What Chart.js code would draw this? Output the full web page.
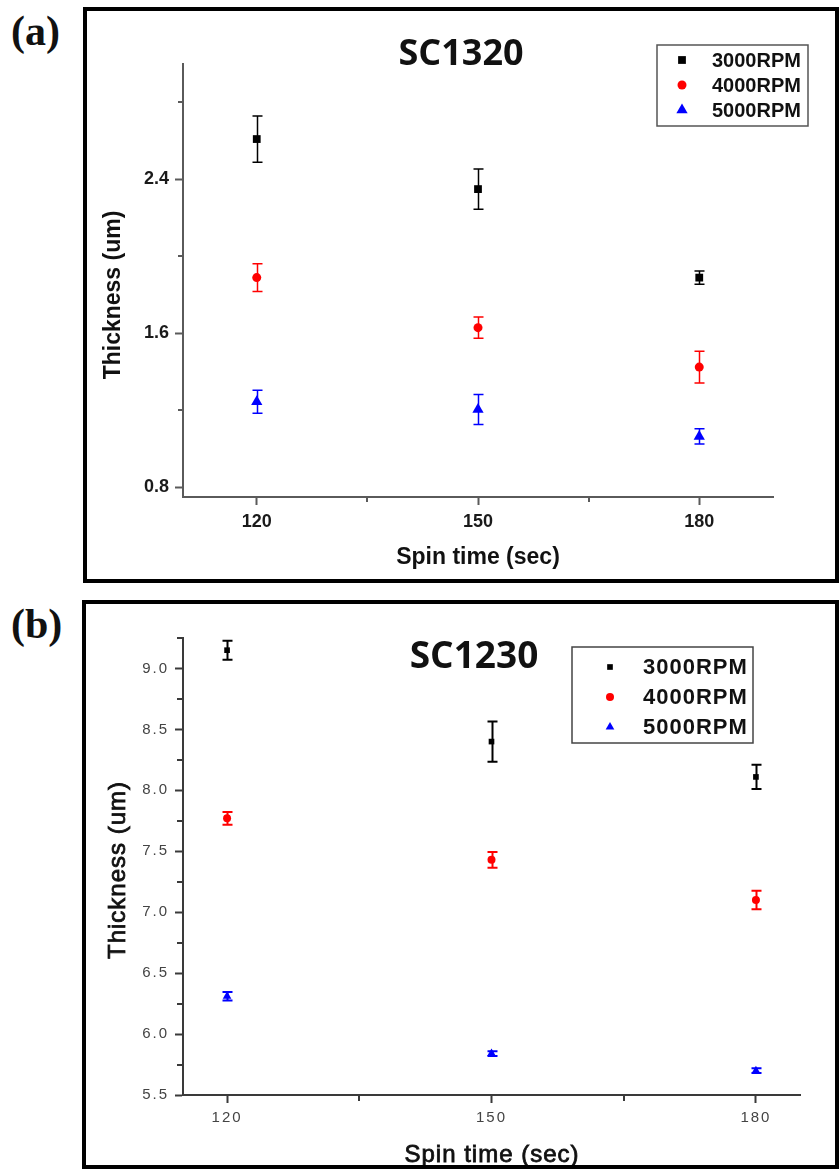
<!DOCTYPE html>
<html>
<head>
<meta charset="utf-8">
<title>Spin coating thickness</title>
<script src="https://cdn.jsdelivr.net/npm/chart.js@4.4.1/dist/chart.umd.min.js"></script>
<style>
  html, body { margin: 0; padding: 0; background: #fff; }
  body { width: 840px; height: 1169px; position: relative; overflow: hidden; }
  canvas { position: absolute; left: 0; }
  .frame { position: absolute; box-sizing: border-box; border: 4px solid #000; pointer-events: none; }
  .tag { position: absolute; font: bold 42px "Liberation Serif", "Times New Roman", serif; line-height: 1; color: #111; }
</style>
</head>
<body>
<div class="tag" style="left:11px;top:10px">(a)</div>
<div class="tag" style="left:11px;top:603px">(b)</div>
<canvas id="chartA" width="840" height="590" style="top:0"></canvas>
<canvas id="chartB" width="840" height="579" style="top:590px"></canvas>
<div class="frame" style="left:83px;top:7px;width:756px;height:576px"></div>
<div class="frame" style="left:82px;top:600px;width:757px;height:569px"></div>
<script>
// spin time (sec) on the x axis
const SPIN_TIME = [120, 150, 180];
const SERIES_NAMES = ["3000RPM", "4000RPM", "5000RPM"];
const SERIES_COLORS = ["#000000", "#ff0000", "#0000ff"];
const SERIES_SHAPES = ["rect", "circle", "triangle"];

// SC1320 thickness (um) and error
const SC1320_3000 = [2.61, 2.35, 1.89];
const SC1320_4000 = [1.89, 1.63, 1.425];
const SC1320_5000 = [1.245, 1.205, 1.065];
const SC1320_3000_ERR = [0.12, 0.105, 0.034];
const SC1320_4000_ERR = [0.072, 0.055, 0.083];
const SC1320_5000_ERR = [0.06, 0.078, 0.04];
const SC1320_Y_TICKS = [0.8, 1.2, 1.6, 2.0, 2.4, 2.8];
const SC1320_X_TICKS = [120, 135, 150, 165, 180];

// SC1230 thickness (um) and error
const SC1230_3000 = [9.15, 8.40, 8.11];
const SC1230_4000 = [7.77, 7.43, 7.10];
const SC1230_5000 = [6.31, 5.84, 5.70];
const SC1230_3000_ERR = [0.078, 0.165, 0.1];
const SC1230_4000_ERR = [0.053, 0.065, 0.075];
const SC1230_5000_ERR = [0.035, 0.02, 0.02];
const SC1230_Y_TICKS = [5.5, 5.75, 6.0, 6.25, 6.5, 6.75, 7.0, 7.25, 7.5, 7.75, 8.0, 8.25, 8.5, 8.75, 9.0, 9.25];
const SC1230_X_TICKS = [120, 135, 150, 165, 180];

// error bars, minor ticks, title, legend and axis titles
const decor = {
  id: "decor",
  beforeDraw(chart, args, o) {
    chart.ctx.letterSpacing = o.tickSpacing || "0px";
  },
  beforeDatasetsDraw(chart, args, o) {
    const ctx = chart.ctx, ys = chart.scales.y;
    chart.data.datasets.forEach((ds, i) => {
      const meta = chart.getDatasetMeta(i);
      ctx.save();
      ctx.strokeStyle = ds.backgroundColor;
      ctx.lineWidth = o.errWidth;
      meta.data.forEach((pt, j) => {
        const v = ds.data[j].y, e = ds.errors[j];
        const t = ys.getPixelForValue(v + e), b = ys.getPixelForValue(v - e);
        const x = Math.round(pt.x) + 0.5, c = o.capHalf;
        ctx.beginPath();
        ctx.moveTo(x, t); ctx.lineTo(x, b);
        ctx.moveTo(x - c, t); ctx.lineTo(x + c, t);
        ctx.moveTo(x - c, b); ctx.lineTo(x + c, b);
        ctx.stroke();
      });
      ctx.restore();
    });
  },
  afterDraw(chart, args, o) {
    const ctx = chart.ctx;
    const { left, bottom } = chart.chartArea;
    ctx.save();
    ctx.letterSpacing = "0px";

    // short minor ticks
    ctx.strokeStyle = o.axisColor;
    ctx.lineWidth = 2;
    ctx.beginPath();
    chart.scales.y.ticks.forEach((t, i) => {
      if (i % 2 === 0) return;
      const py = Math.round(chart.scales.y.getPixelForValue(t.value));
      ctx.moveTo(left - o.minorLen, py); ctx.lineTo(left, py);
    });
    chart.scales.x.ticks.forEach((t, i) => {
      if (i % 2 === 0) return;
      const px = Math.round(chart.scales.x.getPixelForValue(t.value));
      ctx.moveTo(px, bottom); ctx.lineTo(px, bottom + o.minorLen);
    });
    ctx.stroke();

    // panel title
    ctx.fillStyle = "#111";
    ctx.font = o.titleFont;
    ctx.textAlign = "center";
    ctx.textBaseline = "alphabetic";
    ctx.fillText(o.title, o.titleX, o.titleY);

    // legend box
    const L = o.legend;
    ctx.strokeStyle = L.border;
    ctx.lineWidth = 1.5;
    ctx.strokeRect(L.x0, L.y0, L.x1 - L.x0, L.y1 - L.y0);
    ctx.font = L.font;
    ctx.letterSpacing = L.spacing;
    ctx.textAlign = "left";
    ctx.textBaseline = "middle";
    chart.data.datasets.forEach((ds, k) => {
      const ry = L.rows[k];
      ctx.fillStyle = ds.backgroundColor;
      Chart.helpers.drawPoint(ctx, { pointStyle: ds.pointStyle, radius: ds.pointRadius, rotation: 0, borderWidth: 0 }, L.markX, ry);
      ctx.fillStyle = "#111";
      ctx.fillText(ds.label, L.textX, ry + 1);
    });

    // axis titles (a light stroke thickens the regular face)
    ctx.letterSpacing = o.axisSpacing;
    ctx.font = o.axisFont;
    ctx.fillStyle = "#111";
    ctx.strokeStyle = "#111";
    ctx.lineWidth = o.axisStroke || 0;
    ctx.textAlign = "center";
    ctx.textBaseline = "middle";
    ctx.fillText(o.xTitle, o.xTitleX, o.xTitleY);
    if (o.axisStroke) ctx.strokeText(o.xTitle, o.xTitleX, o.xTitleY);
    ctx.translate(o.yTitleX, o.yTitleY);
    ctx.rotate(-Math.PI / 2);
    ctx.fillText(o.yTitle, 0, 0);
    if (o.axisStroke) ctx.strokeText(o.yTitle, 0, 0);
    ctx.restore();
    ctx.letterSpacing = "0px";
  }
};

function makePanel(canvasId, p) {
  const sets = p.values.map((vals, k) => ({
    label: SERIES_NAMES[k],
    data: SPIN_TIME.map((t, i) => ({ x: t, y: vals[i] })),
    errors: p.errors[k],
    pointStyle: SERIES_SHAPES[k],
    pointRadius: p.radius[k],
    pointBorderWidth: 0,
    backgroundColor: SERIES_COLORS[k],
    borderColor: SERIES_COLORS[k]
  }));
  const tickColor = c => (c.index % 2 ? "rgba(0,0,0,0)" : p.axisColor);
  return new Chart(document.getElementById(canvasId), {
    type: "scatter",
    data: { datasets: sets },
    options: {
      responsive: false,
      animation: false,
      events: [],
      layout: { padding: p.padding },
      plugins: { legend: { display: false }, tooltip: { enabled: false }, decor: p.decor },
      scales: {
        x: {
          type: "linear", min: p.xMin, max: p.xMax,
          afterFit: s => { s.height = p.xHeight; },
          afterBuildTicks: s => { s.ticks = p.xTicks.map(v => ({ value: v })); },
          ticks: {
            autoSkip: false, maxRotation: 0, padding: p.xPad,
            color: p.tickColor, font: p.tickFont,
            callback: (v, i) => (i % 2 ? "" : String(v))
          },
          grid: { drawOnChartArea: false, drawTicks: true, tickLength: p.majorLen, tickWidth: 2, tickColor },
          border: { display: true, color: p.axisColor, width: 2 }
        },
        y: {
          type: "linear", min: p.yMin, max: p.yMax,
          afterFit: s => { s.width = p.yWidth; },
          afterBuildTicks: s => { s.ticks = p.yTicks.map(v => ({ value: v })); },
          ticks: {
            autoSkip: false, padding: p.yPad,
            color: p.tickColor, font: p.tickFont,
            callback: (v, i) => (i % 2 ? "" : v.toFixed(1))
          },
          grid: { drawOnChartArea: false, drawTicks: true, tickLength: p.majorLen, tickWidth: 2, tickColor },
          border: { display: true, color: p.axisColor, width: 2 }
        }
      }
    },
    plugins: [decor]
  });
}

makePanel("chartA", {
  values: [SC1320_3000, SC1320_4000, SC1320_5000],
  errors: [SC1320_3000_ERR, SC1320_4000_ERR, SC1320_5000_ERR],
  radius: [5.5, 4.5, 6.5],
  xMin: 110, xMax: 190, yMin: 0.75, yMax: 3.0,
  xTicks: SC1320_X_TICKS, yTicks: SC1320_Y_TICKS,
  padding: { left: 0, top: 64, right: 67, bottom: 0 },
  yWidth: 183, xHeight: 93,
  majorLen: 8, xPad: 6, yPad: 6,
  axisColor: "#5a5a5a", tickColor: "#1a1a1a",
  tickFont: { family: "Liberation Sans, Arial, sans-serif", size: 18, weight: "bold" },
  decor: {
    errWidth: 1.5, capHalf: 5, minorLen: 5, axisColor: "#5a5a5a",
    title: "SC1320", titleFont: "bold 36px 'Open Sans', sans-serif", titleX: 461, titleY: 65,
    legend: {
      x0: 657, y0: 45, x1: 808, y1: 126, border: "#555",
      markX: 682, textX: 712, rows: [60, 85, 110],
      font: "bold 20px 'Liberation Sans', Arial, sans-serif", spacing: "0px"
    },
    axisFont: "bold 23px 'Liberation Sans', Arial, sans-serif", axisSpacing: "0px",
    xTitle: "Spin time (sec)", xTitleX: 478, xTitleY: 558,
    yTitle: "Thickness (um)", yTitleX: 114, yTitleY: 295
  }
});

makePanel("chartB", {
  values: [SC1230_3000, SC1230_4000, SC1230_5000],
  errors: [SC1230_3000_ERR, SC1230_4000_ERR, SC1230_5000_ERR],
  radius: [4, 4, 5],
  xMin: 115, xMax: 185, yMin: 5.5, yMax: 9.25,
  xTicks: SC1230_X_TICKS, yTicks: SC1230_Y_TICKS,
  padding: { left: 0, top: 48, right: 40, bottom: 0 },
  yWidth: 183, xHeight: 74,
  majorLen: 8, xPad: 6, yPad: 6,
  axisColor: "#3a3a3a", tickColor: "#444",
  tickFont: { family: "Liberation Sans, Arial, sans-serif", size: 15, weight: "normal" },
  decor: {
    tickSpacing: "2px",
    errWidth: 2, capHalf: 5, minorLen: 6, axisColor: "#3a3a3a",
    title: "SC1230", titleFont: "bold 37px 'Open Sans', sans-serif", titleX: 474, titleY: 78,
    legend: {
      x0: 572, y0: 57, x1: 753, y1: 153, border: "#444",
      markX: 610, textX: 643, rows: [77, 107, 137],
      font: "bold 22px 'Liberation Sans', Arial, sans-serif", spacing: "1px"
    },
    axisFont: "24px 'Liberation Sans', Arial, sans-serif", axisSpacing: "1px", axisStroke: 0.8,
    xTitle: "Spin time (sec)", xTitleX: 492, xTitleY: 565,
    yTitle: "Thickness (um)", yTitleX: 118, yTitleY: 280
  }
});
</script>
</body>
</html>
